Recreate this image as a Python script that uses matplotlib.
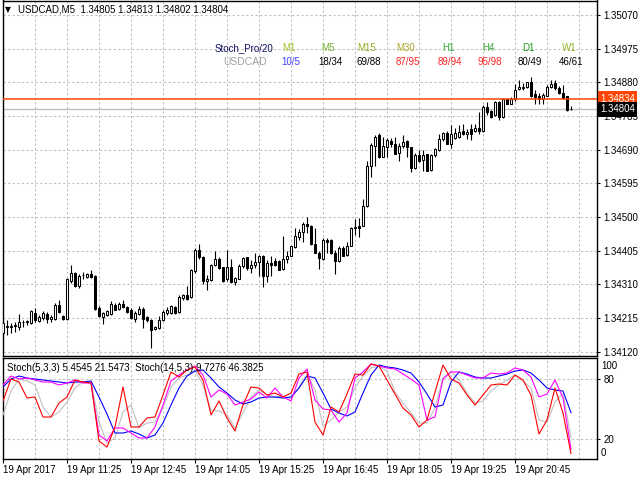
import matplotlib
matplotlib.use("Agg")
import matplotlib.pyplot as plt
import numpy as np

plt.rcParams['font.family'] = ['Liberation Sans', 'DejaVu Sans']

# ---- USDCAD M5 candles, 19 Apr 2017 10:05 .. 21:55 ----
open_ = [1.34172, 1.34190, 1.34191, 1.34193, 1.34191, 1.34203, 1.34204, 1.34201, 1.34229, 1.34208,
         1.34214, 1.34227, 1.34212, 1.34212, 1.34253, 1.34222, 1.34212, 1.34320, 1.34343, 1.34305,
         1.34336, 1.34332, 1.34339, 1.34334, 1.34243, 1.34218, 1.34225, 1.34227, 1.34253, 1.34241,
         1.34256, 1.34246, 1.34239, 1.34212, 1.34227, 1.34241, 1.34217, 1.34210, 1.34184, 1.34186,
         1.34210, 1.34229, 1.34229, 1.34246, 1.34231, 1.34272, 1.34279, 1.34275, 1.34348, 1.34408,
         1.34386, 1.34320, 1.34322, 1.34364, 1.34383, 1.34358, 1.34324, 1.34358, 1.34317, 1.34326,
         1.34361, 1.34386, 1.34356, 1.34364, 1.34372, 1.34391, 1.34333, 1.34370, 1.34375, 1.34377,
         1.34353, 1.34383, 1.34391, 1.34415, 1.34445, 1.34457, 1.34481, 1.34476, 1.34425, 1.34400,
         1.34381, 1.34436, 1.34436, 1.34400, 1.34376, 1.34413, 1.34393, 1.34419, 1.34468, 1.34476,
         1.34476, 1.34532, 1.34645, 1.34702, 1.34731, 1.34671, 1.34699, 1.34715, 1.34707, 1.34680,
         1.34701, 1.34716, 1.34697, 1.34638, 1.34674, 1.34660, 1.34677, 1.34633, 1.34674, 1.34690,
         1.34721, 1.34737, 1.34707, 1.34724, 1.34726, 1.34742, 1.34735, 1.34750, 1.34743, 1.34752,
         1.34743, 1.34811, 1.34799, 1.34787, 1.34825, 1.34783, 1.34832, 1.34820, 1.34832, 1.34861,
         1.34863, 1.34866, 1.34880, 1.34847, 1.34841, 1.34832, 1.34842, 1.34868, 1.34879, 1.34863,
         1.34849, 1.34841, 1.34805]
high = [1.34210, 1.34210, 1.34201, 1.34205, 1.34227, 1.34210, 1.34210, 1.34237, 1.34243, 1.34225,
        1.34234, 1.34231, 1.34225, 1.34258, 1.34267, 1.34225, 1.34329, 1.34364, 1.34345, 1.34339,
        1.34345, 1.34343, 1.34351, 1.34336, 1.34248, 1.34231, 1.34237, 1.34262, 1.34258, 1.34260,
        1.34267, 1.34250, 1.34243, 1.34234, 1.34248, 1.34246, 1.34222, 1.34212, 1.34193, 1.34220,
        1.34239, 1.34246, 1.34253, 1.34250, 1.34279, 1.34282, 1.34305, 1.34353, 1.34412, 1.34424,
        1.34389, 1.34336, 1.34367, 1.34405, 1.34386, 1.34360, 1.34408, 1.34383, 1.34332, 1.34367,
        1.34386, 1.34388, 1.34380, 1.34398, 1.34394, 1.34394, 1.34380, 1.34391, 1.34384, 1.34380,
        1.34447, 1.34405, 1.34419, 1.34469, 1.34466, 1.34485, 1.34500, 1.34478, 1.34469, 1.34403,
        1.34441, 1.34441, 1.34438, 1.34408, 1.34417, 1.34417, 1.34431, 1.34472, 1.34496, 1.34497,
        1.34551, 1.34657, 1.34709, 1.34732, 1.34737, 1.34727, 1.34723, 1.34723, 1.34727, 1.34709,
        1.34732, 1.34718, 1.34699, 1.34680, 1.34688, 1.34688, 1.34679, 1.34679, 1.34696, 1.34735,
        1.34740, 1.34743, 1.34759, 1.34752, 1.34759, 1.34764, 1.34750, 1.34764, 1.34764, 1.34797,
        1.34816, 1.34825, 1.34802, 1.34828, 1.34828, 1.34837, 1.34835, 1.34839, 1.34877, 1.34887,
        1.34879, 1.34882, 1.34896, 1.34858, 1.34849, 1.34849, 1.34872, 1.34887, 1.34887, 1.34870,
        1.34872, 1.34843, 1.34813]
low = [1.34161, 1.34167, 1.34172, 1.34177, 1.34182, 1.34189, 1.34196, 1.34199, 1.34205, 1.34205,
       1.34210, 1.34201, 1.34203, 1.34210, 1.34229, 1.34210, 1.34210, 1.34315, 1.34303, 1.34300,
       1.34324, 1.34329, 1.34329, 1.34237, 1.34218, 1.34199, 1.34220, 1.34225, 1.34237, 1.34239,
       1.34243, 1.34229, 1.34212, 1.34205, 1.34225, 1.34186, 1.34205, 1.34130, 1.34180, 1.34184,
       1.34208, 1.34225, 1.34227, 1.34227, 1.34229, 1.34267, 1.34265, 1.34271, 1.34343, 1.34383,
       1.34310, 1.34294, 1.34320, 1.34362, 1.34353, 1.34317, 1.34320, 1.34313, 1.34307, 1.34324,
       1.34356, 1.34351, 1.34342, 1.34356, 1.34333, 1.34304, 1.34316, 1.34333, 1.34361, 1.34350,
       1.34351, 1.34370, 1.34389, 1.34413, 1.34436, 1.34429, 1.34455, 1.34422, 1.34398, 1.34353,
       1.34380, 1.34398, 1.34397, 1.34339, 1.34372, 1.34389, 1.34391, 1.34417, 1.34450, 1.34445,
       1.34474, 1.34528, 1.34613, 1.34645, 1.34666, 1.34669, 1.34671, 1.34699, 1.34677, 1.34657,
       1.34695, 1.34669, 1.34626, 1.34635, 1.34655, 1.34631, 1.34630, 1.34631, 1.34671, 1.34686,
       1.34715, 1.34705, 1.34696, 1.34721, 1.34723, 1.34731, 1.34721, 1.34717, 1.34740, 1.34735,
       1.34740, 1.34787, 1.34781, 1.34785, 1.34773, 1.34781, 1.34818, 1.34818, 1.34828, 1.34858,
       1.34858, 1.34863, 1.34839, 1.34820, 1.34820, 1.34818, 1.34841, 1.34863, 1.34860, 1.34847,
       1.34832, 1.34800, 1.34802]
close = [1.34201, 1.34192, 1.34193, 1.34194, 1.34203, 1.34204, 1.34206, 1.34234, 1.34210, 1.34217,
         1.34229, 1.34212, 1.34217, 1.34253, 1.34231, 1.34212, 1.34324, 1.34341, 1.34305, 1.34334,
         1.34337, 1.34340, 1.34332, 1.34241, 1.34220, 1.34229, 1.34234, 1.34256, 1.34239, 1.34256,
         1.34246, 1.34231, 1.34215, 1.34229, 1.34241, 1.34212, 1.34210, 1.34182, 1.34191, 1.34210,
         1.34231, 1.34239, 1.34248, 1.34229, 1.34275, 1.34279, 1.34269, 1.34351, 1.34408, 1.34386,
         1.34320, 1.34326, 1.34364, 1.34383, 1.34355, 1.34320, 1.34358, 1.34317, 1.34329, 1.34362,
         1.34384, 1.34356, 1.34366, 1.34373, 1.34391, 1.34333, 1.34370, 1.34364, 1.34364, 1.34351,
         1.34382, 1.34391, 1.34417, 1.34447, 1.34459, 1.34481, 1.34476, 1.34424, 1.34400, 1.34384,
         1.34434, 1.34431, 1.34398, 1.34376, 1.34413, 1.34391, 1.34419, 1.34468, 1.34472, 1.34468,
         1.34530, 1.34643, 1.34704, 1.34726, 1.34671, 1.34702, 1.34718, 1.34705, 1.34679, 1.34701,
         1.34711, 1.34697, 1.34638, 1.34676, 1.34658, 1.34674, 1.34631, 1.34674, 1.34691, 1.34721,
         1.34737, 1.34707, 1.34734, 1.34737, 1.34740, 1.34735, 1.34739, 1.34735, 1.34752, 1.34743,
         1.34811, 1.34797, 1.34783, 1.34825, 1.34783, 1.34832, 1.34820, 1.34832, 1.34860, 1.34868,
         1.34868, 1.34880, 1.34841, 1.34839, 1.34832, 1.34844, 1.34868, 1.34877, 1.34863, 1.34849,
         1.34835, 1.34802, 1.34804]

ask_price = 1.34834
bid_price = 1.34804
price_ticks = [1.34120, 1.34215, 1.34310, 1.34405, 1.34500, 1.34595, 1.34690, 1.34785,
               1.34880, 1.34975, 1.35070]

time_labels = ['19 Apr 2017', '19 Apr 11:25', '19 Apr 12:45', '19 Apr 14:05', '19 Apr 15:25',
               '19 Apr 16:45', '19 Apr 18:05', '19 Apr 19:25', '19 Apr 20:45']

# stochastics read every second bar
stoch_bars = list(range(0, 143, 2))
st5_main = [58, 80, 77, 61, 62, 42, 42, 56, 62, 79, 77, 76, 18, 12, 32, 72, 32, 32, 41, 42, 64, 87, 82, 89, 92,
            79, 44, 58, 41, 28, 54, 72, 71, 64, 66, 62, 66, 85, 87, 37, 24, 52, 47, 65, 85, 84, 95, 93, 79,
            65, 51, 44, 32, 39, 67, 94, 80, 76, 64, 54, 64, 74, 75, 74, 84, 79, 64, 25, 39, 71, 46, 5.45]
st5_signal = [44, 68, 80, 78, 74, 52, 42, 47, 57, 71, 77, 77, 37, 16, 21, 47, 54, 31, 36, 37, 51, 72, 81, 84, 89,
              74, 49, 48, 44, 31, 46, 62, 69, 64, 62, 63, 60, 72, 85, 69, 33, 39, 47, 52, 71, 83, 91, 93, 88,
              67, 56, 46, 36, 36, 51, 81, 88, 79, 66, 56, 58, 68, 74, 79, 84, 78, 71, 39, 37, 57, 66, 21.55]
st14_main = [74, 83, 80, 81, 79, 77, 77, 74, 76, 79, 76, 76, 24, 18, 31, 31, 26, 21, 21, 32, 54, 78, 84, 89, 93,
             84, 62, 69, 65, 54, 57, 60, 67, 61, 71, 62, 58, 81, 90, 59, 50, 49, 37, 46, 81, 87, 95, 93, 91,
             90, 85, 80, 74, 39, 42, 80, 87, 87, 84, 81, 81, 86, 85, 86, 91, 89, 82, 62, 65, 79, 61, 9.73]
st14_signal = [72, 80, 83, 81, 80, 79, 78, 77, 76, 77, 77, 78, 62, 45, 26, 26, 28, 25, 21, 24, 36, 54, 71, 83, 88,
               89, 81, 72, 66, 59, 55, 57, 61, 62, 62, 61, 62, 71, 83, 81, 66, 50, 46, 43, 47, 66, 84, 94, 92,
               91, 89, 86, 77, 65, 52, 54, 77, 87, 85, 82, 81, 81, 83, 85, 88, 89, 86, 79, 71, 69, 68, 46.38]

table_tf = ['M1', 'M5', 'M15', 'M30', 'H1', 'H4', 'D1', 'W1']
table_val = ['10/5', '18/34', '69/88', '87/95', '89/94', '95/98', '80/49', '46/61']
tf_colors = ['#9CC424', '#6FAF2C', '#8FAF22', '#A8A82A', '#2EAF2E', '#35A535', '#229F22', '#8FB424']
val_colors = ['#4040FF', 'black', 'black', '#FF2020', '#FF2020', '#FF2020', 'black', 'black']

W, H = 640, 480
fig = plt.figure(figsize=(6.4, 4.8), dpi=100)
fig.patch.set_facecolor('white')


def fx(px):
    return px / W


def fy(py):
    return 1 - py / H


x0, x1 = 2.5, 597
ax = fig.add_axes([fx(x0), fy(356), (x1 - x0) / W, 355.5 / H])
ax2 = fig.add_axes([fx(x0), fy(459), (x1 - x0) / W, 101 / H])

grid_kw = dict(color='#C0C0C0', lw=0.75, linestyle=(0, (2.2, 2.2)), zorder=0)
n = len(close)
xs = np.arange(n)

# candles
for i in range(n):
    ax.vlines(xs[i], low[i], high[i], color='black', lw=0.8, zorder=2)
    up = close[i] >= open_[i]
    ax.bar(xs[i], close[i] - open_[i], bottom=open_[i], width=0.55,
           color='white' if up else 'black', edgecolor='black', lw=0.75, zorder=3)

ax.axhline(ask_price, color='#FF4500', lw=1.1, zorder=4)
ax.axhline(bid_price, color='#C0C0C0', lw=1.0, zorder=1)

ax.set_xlim(-0.125, 148.5)
ax.set_ylim(1.341079, 1.351114)
ax.set_xticks([])
ax.set_yticks(price_ticks)
ax.set_yticklabels(['%.5f' % p for p in price_ticks])
ax.yaxis.tick_right()
ax.tick_params(axis='y', length=2.5, width=0.8, pad=2, labelsize=7, colors='black')
for p in price_ticks:
    ax.axhline(p, **grid_kw)
for b in range(8, 149, 8):
    ax.axvline(b, **grid_kw)
    ax2.axvline(b, **grid_kw)

# stochastic panel
ax2.plot(stoch_bars, st5_signal, color='#C0C0C0', lw=0.8, zorder=3)
ax2.plot(stoch_bars, st14_signal, color='#0000FF', lw=0.8, zorder=4)
ax2.plot(stoch_bars, st14_main, color='#FF00FF', lw=0.8, zorder=5)
ax2.plot(stoch_bars, st5_main, color='#FF0000', lw=0.8, zorder=6)
ax2.axhline(20, **grid_kw)
ax2.axhline(80, **grid_kw)
ax2.set_xlim(-0.125, 148.5)
ax2.set_ylim(0, 101)
ax2.yaxis.tick_right()
ax2.set_yticks([20, 80])
ax2.set_yticklabels(['20', '80'])
ax2.tick_params(axis='y', length=2.5, width=0.8, pad=2, labelsize=7)
ax2.set_xticks(range(0, 129, 16))
ax2.set_xticklabels(time_labels)
for lab in ax2.get_xticklabels():
    lab.set_horizontalalignment('left')
ax2.tick_params(axis='x', length=3, width=0.8, pad=1.5, labelsize=7)
fig.text(fx(601), fy(366), '100', fontsize=7, va='center')
fig.text(fx(601), fy(453), '0', fontsize=7, va='center')
ax2.text(0.008, 0.9, 'Stoch(5,3,3) 5.4545 21.5473  Stoch(14,5,3) 9.7276 46.3825',
         transform=ax2.transAxes, fontsize=7, va='center', zorder=10)

for a in (ax, ax2):
    for s in a.spines.values():
        s.set_linewidth(1.0)
        s.set_color('black')

# header
fig.text(fx(5), fy(10), '\u25bc', fontsize=5.5, va='center', family='DejaVu Sans')
fig.text(fx(18), fy(10), 'USDCAD,M5  1.34805 1.34813 1.34802 1.34804', fontsize=7, va='center')

# Stoch_Pro table
fig.text(fx(244), fy(48), 'Stoch_Pro/20', fontsize=7, color='#101060', ha='center', va='center')
fig.text(fx(245), fy(62), 'USDCAD', fontsize=7.5, color='#A0A0A0', ha='center', va='center')
col_x = [289, 328, 367, 406, 448, 488, 528, 569]
for cx, tf, tc, v, vc in zip(col_x, table_tf, tf_colors, table_val, val_colors):
    fig.text(fx(cx), fy(48), tf, fontsize=7, color=tc, ha='center', va='center')
    fig.text(fx(cx + 2), fy(62), v, fontsize=7, color=vc, ha='center', va='center')

# price labels on the right
fig.text(fx(600), fy(98.5), '%.5f' % ask_price, fontsize=7, color='white', va='center',
         bbox=dict(boxstyle='square,pad=0.25', facecolor='#FF4500', edgecolor='none'))
fig.text(fx(600), fy(109.5), '%.5f' % bid_price, fontsize=7, color='white', va='center',
         bbox=dict(boxstyle='square,pad=0.25', facecolor='black', edgecolor='none'))

fig.savefig('out.png', dpi=100)
